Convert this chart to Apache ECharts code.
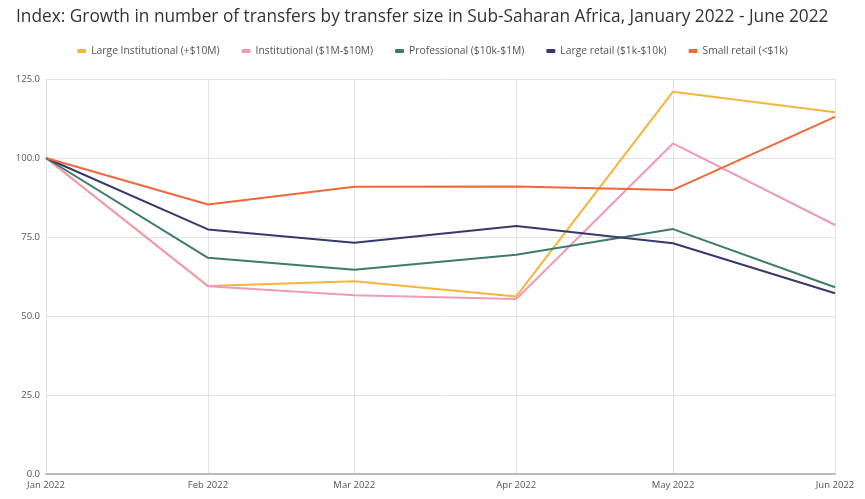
<!DOCTYPE html>
<html>
<head>
<meta charset="utf-8">
<script src="https://cdn.jsdelivr.net/npm/echarts@6/dist/echarts.min.js"></script>
<style>
html,body{margin:0;padding:0;background:#fff;}
#chart{width:865px;height:499px;}
</style>
</head>
<body>
<div id="chart"></div>
<script>
const dates = ['2022-01-01','2022-02-01','2022-03-01','2022-04-01','2022-05-01','2022-06-01'];
const monthLabels = ['Jan 2022','Feb 2022','Mar 2022','Apr 2022','May 2022','Jun 2022'];
const seriesNames = ['Large Institutional (+$10M)','Institutional ($1M-$10M)','Professional ($10k-$1M)','Large retail ($1k-$10k)','Small retail (<$1k)'];
const largeInstitutional = [100, 59.5, 61.0, 56.2, 121.0, 114.5];
const institutional      = [100, 59.4, 56.6, 55.4, 104.6, 78.8];
const professional       = [100, 68.4, 64.6, 69.4, 77.5, 59.1];
const largeRetail        = [100, 77.4, 73.2, 78.5, 73.0, 57.2];
const smallRetail        = [100, 85.3, 90.9, 91.0, 89.9, 113.0];
const yTicks = [0, 25, 50, 75, 100, 125];

const colors = ['#F4B63A', '#EE9AB8', '#3F7B6C', '#36386E', '#F0683A'];
const allValues = [largeInstitutional, institutional, professional, largeRetail, smallRetail];

const DAY = 86400000;
const t0 = new Date(dates[0] + 'T00:00:00Z').getTime();
const xs = dates.map(d => Math.round((new Date(d + 'T00:00:00Z').getTime() - t0) / DAY));

const chart = echarts.init(document.getElementById('chart'), null, {renderer: 'canvas'});
const FONT = '"Open Sans", "Noto Sans", sans-serif';

chart.setOption({
  animation: false,
  backgroundColor: '#fff',
  color: colors,
  title: {
    text: 'Index: Growth in number of transfers by transfer size in Sub-Saharan Africa, January 2022 - June 2022',
    left: 11, top: 4,
    textStyle: {fontFamily: FONT, fontSize: 17.3, fontWeight: 'normal', color: '#333'}
  },
  legend: {
    top: 41, left: 'center',
    icon: 'roundRect', itemWidth: 9, itemHeight: 4, itemGap: 22,
    textStyle: {fontFamily: FONT, fontSize: 10.3, color: '#555'},
    data: seriesNames
  },
  grid: {left: 46, right: 30, top: 79, bottom: 25, containLabel: false},
  xAxis: {
    type: 'value',
    min: xs[0], max: xs[xs.length - 1],
    axisLine: {show: true, lineStyle: {color: '#bbb', width: 2}},
    axisTick: {show: false, customValues: xs},
    splitLine: {show: true, lineStyle: {color: '#e3e3e3', width: 1}},
    axisLabel: {
      fontFamily: FONT, fontSize: 9.5, color: '#555', margin: 6,
      customValues: xs,
      formatter: function (v) {
        const i = xs.indexOf(v);
        return i >= 0 ? monthLabels[i] : '';
      }
    }
  },
  yAxis: {
    type: 'value', min: yTicks[0], max: yTicks[yTicks.length - 1], interval: 25,
    axisLine: {show: false},
    axisTick: {show: false},
    splitLine: {show: true, lineStyle: {color: '#e3e3e3', width: 1}},
    axisLabel: {
      fontFamily: FONT, fontSize: 9.5, color: '#555', margin: 6,
      formatter: v => v.toFixed(1)
    }
  },
  series: seriesNames.map((name, i) => ({
    name: name,
    type: 'line',
    showSymbol: false,
    symbol: 'none',
    lineStyle: {width: 2, color: colors[i]},
    itemStyle: {color: colors[i]},
    data: allValues[i].map((v, j) => [xs[j], v])
  }))
});
</script>
</body>
</html>
